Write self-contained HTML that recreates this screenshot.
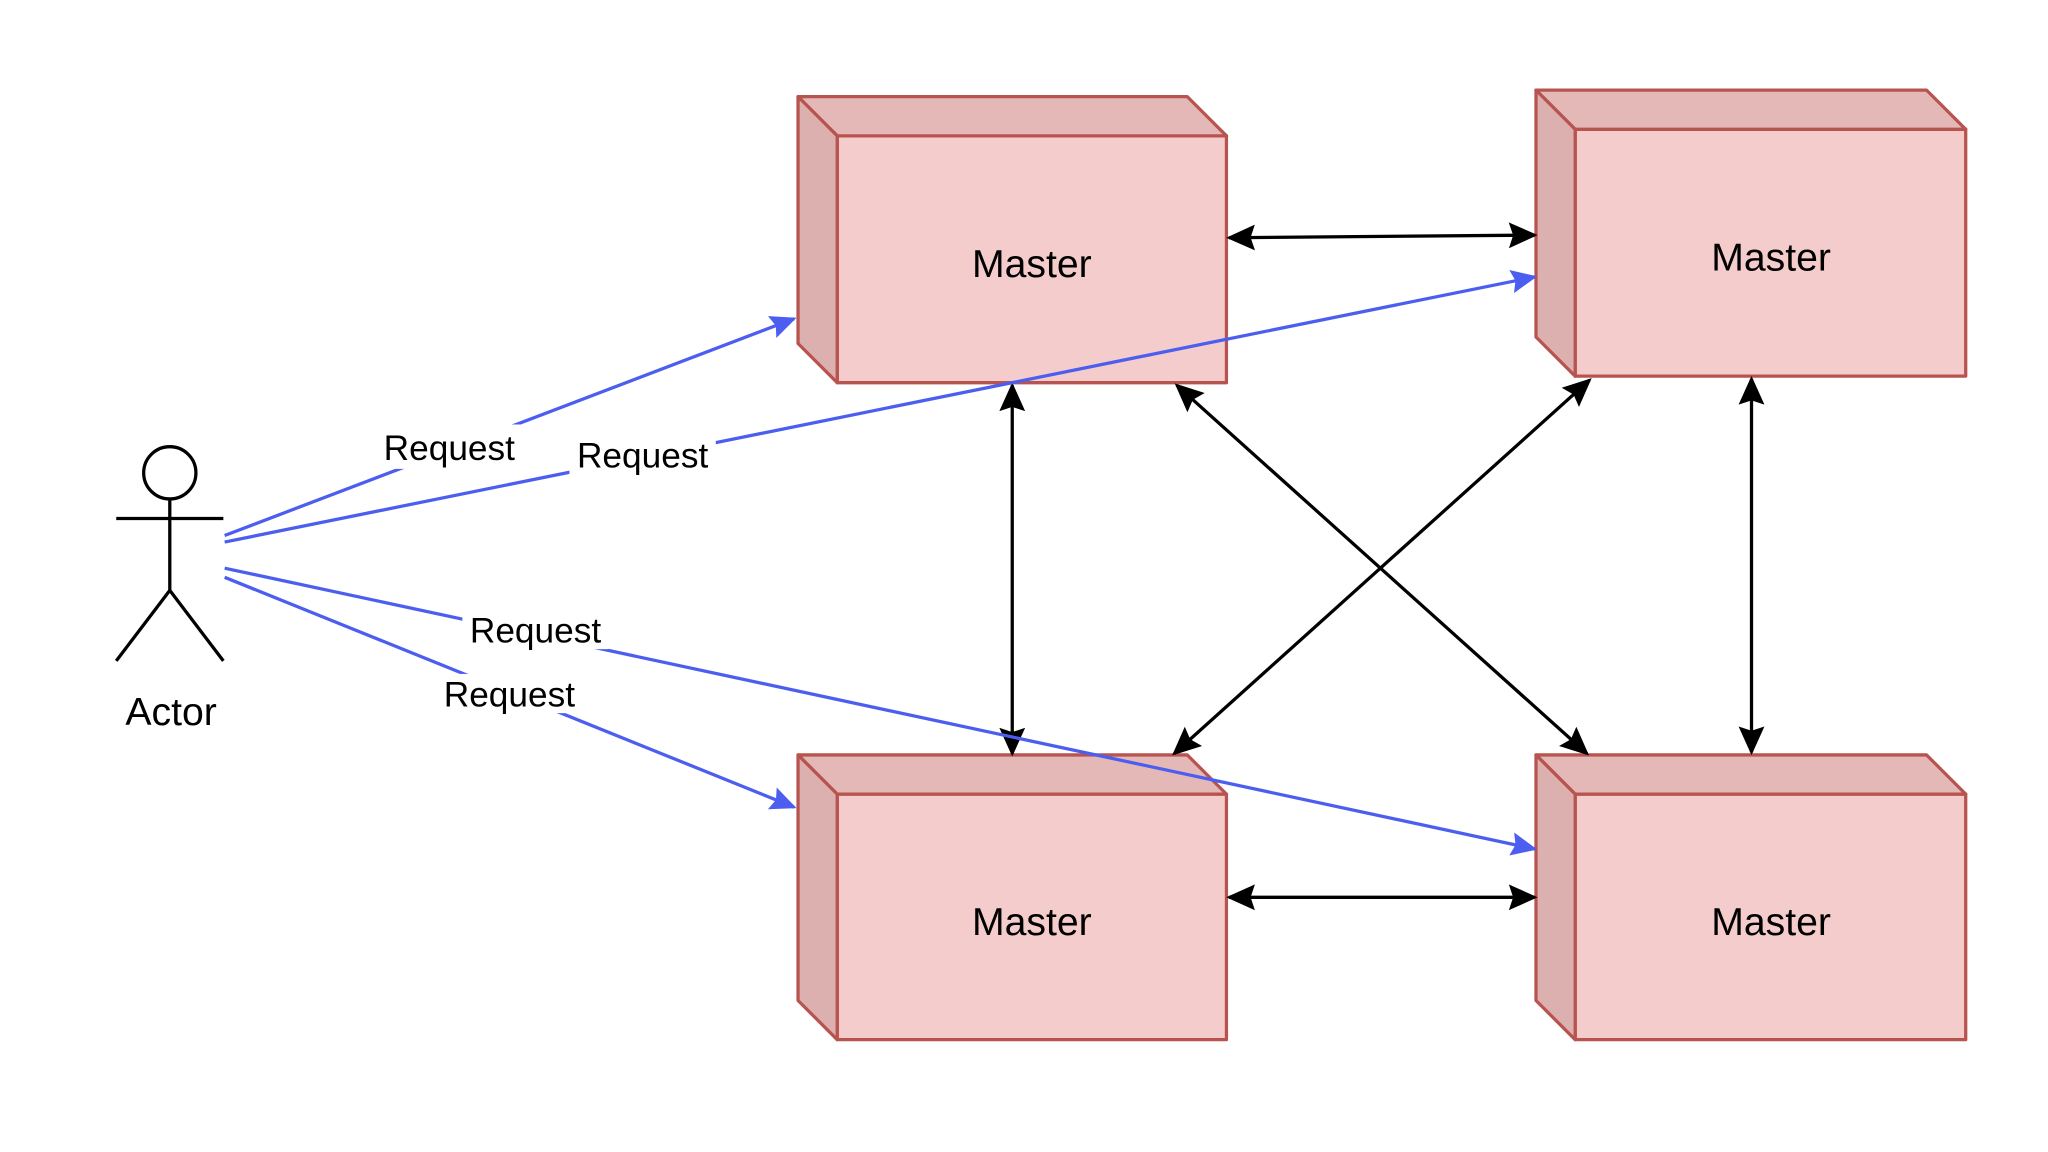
<!DOCTYPE html>
<html><head><meta charset="utf-8"><style>html,body{margin:0;padding:0;background:#fff;}svg{display:block}</style></head>
<body>
<svg width="2048" height="1152" viewBox="0 0 1568 882" preserveAspectRatio="none" xmlns="http://www.w3.org/2000/svg" font-family="Liberation Sans, sans-serif">
<defs>
<marker id="bl" viewBox="0 0 10 10" refX="9" refY="5" markerWidth="20" markerHeight="20" orient="auto" markerUnits="userSpaceOnUse"><path d="M0,0.5 L10,5 L0,9.5 L1.5,5 z" fill="#4b5ef0"/></marker>
<marker id="bk2" viewBox="0 0 10 10" refX="9" refY="5" markerWidth="22" markerHeight="22" orient="auto-start-reverse" markerUnits="userSpaceOnUse"><path d="M0,0.5 L10,5 L0,9.5 L1.5,5 z" fill="#000"/></marker>
</defs>
<rect width="1568" height="882" fill="#fff"/>
<g stroke="#b85450" stroke-width="2.5" stroke-linejoin="round">
<g transform="translate(611,74)"><rect x="30" y="30" width="298" height="189" fill="#f4cccb"/><polygon points="0,0 298,0 328,30 30,30" fill="#e4b8b7"/><polygon points="0,0 30,30 30,219 0,189" fill="#dcb0af"/></g>
<g transform="translate(1176,69)"><rect x="30" y="30" width="299" height="189" fill="#f4cccb"/><polygon points="0,0 299,0 329,30 30,30" fill="#e4b8b7"/><polygon points="0,0 30,30 30,219 0,189" fill="#dcb0af"/></g>
<g transform="translate(611,578)"><rect x="30" y="30" width="298" height="188" fill="#f4cccb"/><polygon points="0,0 298,0 328,30 30,30" fill="#e4b8b7"/><polygon points="0,0 30,30 30,218 0,188" fill="#dcb0af"/></g>
<g transform="translate(1176,578)"><rect x="30" y="30" width="299" height="188" fill="#f4cccb"/><polygon points="0,0 299,0 329,30 30,30" fill="#e4b8b7"/><polygon points="0,0 30,30 30,218 0,188" fill="#dcb0af"/></g>
</g>
<g font-size="30" text-anchor="middle" fill="#000">
<text x="790" y="212">Master</text><text x="1356" y="207">Master</text>
<text x="790" y="716">Master</text><text x="1356" y="716">Master</text>
</g>
<g stroke="#000" stroke-width="2.5" fill="none" marker-start="url(#bk2)" marker-end="url(#bk2)">
<line x1="941" y1="182" x2="1175" y2="180"/>
<line x1="941" y1="687" x2="1175" y2="687"/>
<line x1="775" y1="295" x2="775" y2="577"/>
<line x1="1341" y1="290" x2="1341" y2="576"/>
<line x1="901" y1="295" x2="1215" y2="577"/>
<line x1="1217" y1="291" x2="899" y2="577"/>
</g>
<g stroke="#4b5ef0" stroke-width="2.5" fill="none" marker-end="url(#bl)">
<line x1="172" y1="410" x2="608" y2="244"/>
<line x1="172" y1="415" x2="1175" y2="212"/>
<line x1="172" y1="435" x2="1175" y2="650"/>
<line x1="172" y1="442" x2="608" y2="618"/>
</g>
<g font-size="27" text-anchor="middle">
<rect x="290" y="325" width="110" height="34" fill="#fff"/><text x="344" y="352">Request</text>
<rect x="436" y="333" width="112" height="30" fill="#fff"/><text x="492" y="358">Request</text>
<rect x="354" y="467" width="112" height="30" fill="#fff"/><text x="410" y="492">Request</text>
<rect x="334" y="516" width="112" height="30" fill="#fff"/><text x="390" y="541">Request</text>
</g>
<g stroke="#000" stroke-width="2.5" fill="none">
<circle cx="130" cy="362" r="20" fill="#fff"/>
<line x1="130" y1="382" x2="130" y2="452"/>
<line x1="89" y1="397" x2="171" y2="397"/>
<line x1="130" y1="452" x2="89" y2="506"/>
<line x1="130" y1="452" x2="171" y2="506"/>
</g>
<text x="131" y="555" font-size="30" text-anchor="middle">Actor</text>
</svg>
</body></html>
